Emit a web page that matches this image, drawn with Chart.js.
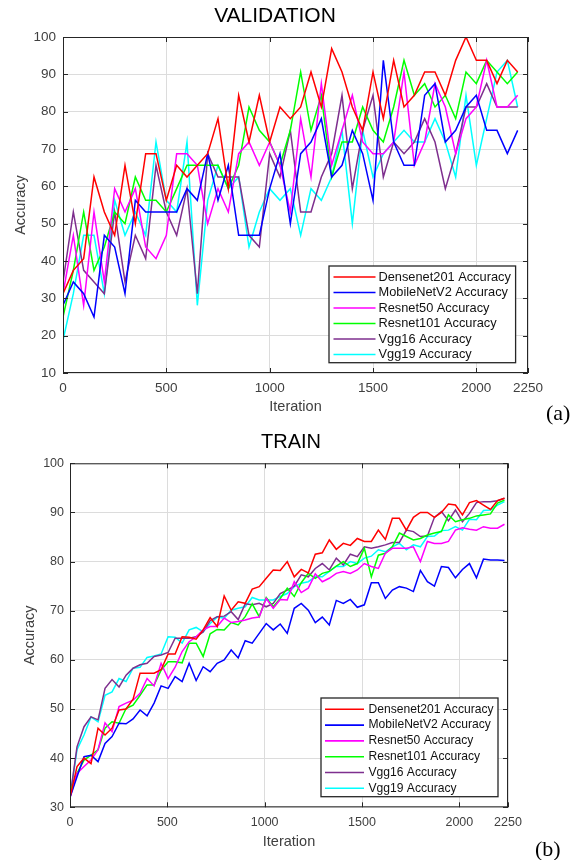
<!DOCTYPE html>
<html>
<head>
<meta charset="utf-8">
<title>Validation / Train Accuracy</title>
<script src="https://cdn.jsdelivr.net/npm/chart.js"></script>
<style>
  body { margin: 0; background: #fff; }
  #wrap { position: relative; width: 587px; height: 860px; }
  canvas { position: absolute; left: 0; }
  #valChart { top: 0; }
  #trainChart { top: 430px; }
  .tag { position: absolute; font-family: "Liberation Serif", "Times New Roman", serif; font-size: 22px; color: #000; }
</style>
</head>
<body>
<div id="wrap">
  <canvas id="valChart" width="587" height="430"></canvas>
  <canvas id="trainChart" width="587" height="430"></canvas>
  <div class="tag" style="left:546px; top:400px">(a)</div>
  <div class="tag" style="left:535px; top:836px">(b)</div>
</div>
<script>
// model names and line colours (MATLAB defaults)
const models = ['Densenet201', 'MobileNetV2', 'Resnet50', 'Resnet101', 'Vgg16', 'Vgg19'];
const colors = ['#ff0000', '#0000ff', '#ff00ff', '#00ff00', '#7e2f8e', '#00ffff'];
const xTicks = [0, 500, 1000, 1500, 2000, 2250];

// ---- validation (every 50 iterations) ----
const valIter = [0, 50, 100, 150, 200, 250, 300, 350, 400, 450, 500, 550, 600, 650, 700, 750, 800, 850, 900, 950,
  1000, 1050, 1100, 1150, 1200, 1250, 1300, 1350, 1400, 1450, 1500, 1550, 1600, 1650, 1700, 1750, 1800, 1850, 1900, 1950,
  2000, 2050, 2100, 2150, 2200];
const valDensenet = [31.25, 37.5, 40.63, 62.5, 53.13, 46.88, 65.63, 50, 68.75, 68.75, 56.25, 65.63, 62.5, 65.63, 68.75,
  78.13, 59.38, 84.38, 71.88, 84.38, 71.88, 81.25, 78.13, 81.25, 90.63, 81.25, 96.88, 90.63, 81.25, 75, 90.63, 78.13,
  93.75, 81.25, 84.38, 90.63, 90.63, 84.38, 93.75, 100, 93.75, 93.75, 87.5, 93.75, 90.63];
const valMobileNet = [28.13, 34.38, 31.25, 25, 46.88, 43.75, 31.25, 56.25, 53.13, 53.13, 53.13, 53.13, 59.38, 56.25, 68.75,
  56.25, 65.63, 46.88, 46.88, 46.88, 59.38, 68.75, 50, 68.75, 71.88, 78.13, 62.5, 65.63, 75, 68.75, 56.25, 93.75, 71.88,
  65.63, 65.63, 84.38, 87.5, 71.88, 75, 81.25, 84.38, 75, 75, 68.75, 75];
const valResnet50 = [31.25, 46.88, 28.13, 53.13, 34.38, 59.38, 53.13, 59.38, 43.75, 40.63, 46.88, 68.75, 68.75, 65.63, 50,
  59.38, 53.13, 68.75, 71.88, 65.63, 71.88, 65.63, 53.13, 78.13, 62.5, 87.5, 65.63, 75, 84.38, 71.88, 68.75, 68.75, 71.88,
  90.63, 65.63, 71.88, 87.5, 81.25, 68.75, 78.13, 81.25, 93.75, 81.25, 81.25, 84.38];
const valResnet101 = [25, 37.5, 53.13, 37.5, 43.75, 53.13, 50, 62.5, 56.25, 56.25, 53.13, 59.38, 65.63, 65.63, 65.63, 65.63,
  59.38, 65.63, 81.25, 75, 71.88, 65.63, 75, 90.63, 75, 84.38, 62.5, 71.88, 71.88, 81.25, 75, 71.88, 81.25, 93.75, 84.38,
  87.5, 81.25, 84.38, 78.13, 90.63, 87.5, 93.75, 90.63, 87.5, 90.63];
const valVgg16 = [34.38, 53.13, 37.5, 34.38, 31.25, 53.13, 34.38, 46.88, 40.63, 65.63, 53.13, 46.88, 59.38, 31.25, 68.75,
  62.5, 62.5, 62.5, 46.88, 43.75, 68.75, 62.5, 75, 53.13, 53.13, 62.5, 68.75, 84.38, 59.38, 75, 84.38, 62.5, 71.88, 68.75,
  71.88, 78.13, 71.88, 59.38, 68.75, 81.25, 81.25, 87.5, 81.25, 81.25, 81.25];
const valVgg19 = [18.75, 31.25, 46.88, 46.88, 31.25, 56.25, 46.88, 53.13, 46.88, 71.88, 56.25, 53.13, 71.88, 28.13, 56.25,
  65.63, 59.38, 62.5, 43.75, 53.13, 59.38, 56.25, 59.38, 46.88, 59.38, 56.25, 62.5, 75, 50, 75, 62.5, 68.75, 71.88, 75,
  71.88, 71.88, 78.13, 71.88, 62.5, 84.38, 65.63, 78.13, 90.63, 93.75, 81.25];

// ---- training ----
const trainIter = [0, 36, 72, 108, 144, 180, 216, 252, 288, 324, 360, 396, 432, 468, 504, 540, 576, 612, 648, 684, 720,
  756, 792, 828, 864, 900, 936, 972, 1008, 1044, 1080, 1116, 1152, 1188, 1224, 1260, 1296, 1332, 1368, 1404, 1440, 1476,
  1512, 1548, 1584, 1620, 1656, 1692, 1728, 1764, 1800, 1836, 1872, 1908, 1944, 1980, 2016, 2052, 2088, 2124, 2160, 2196, 2232];
const trDensenet = [32, 38.3, 40, 38.9, 46.1, 44.7, 46.1, 49.8, 50, 52, 57.3, 57.3, 57.3, 58, 61.2, 61.2, 64.7, 64.6, 64.2,
  66.1, 68.6, 66.8, 73, 70.1, 71.8, 71.5, 74.4, 74.9, 76.6, 78.3, 78.2, 80, 76.9, 78.4, 77.7, 81.5, 81.8, 84.4, 82.5, 83.7,
  83.3, 84.7, 84.1, 84.1, 86.4, 84.5, 88.8, 88.8, 86.4, 89, 90, 90, 89, 90, 91.7, 91.5, 89.5, 92, 92.4, 91.5, 90.6, 92.4, 92.9];
const trMobileNet = [32, 36.2, 40.3, 40.6, 39.3, 43, 44.4, 47.1, 47, 48, 49.8, 48.6, 51.2, 54.7, 54.2, 56.6, 55.6, 59.3, 55.8,
  58.6, 57.6, 59.3, 60, 62, 60.4, 63.9, 63.4, 65.4, 67.4, 66.1, 67.3, 65.4, 70.5, 71.5, 70.1, 67.6, 68.7, 67.1, 72.1, 71.5,
  72.3, 70.7, 71.2, 75.7, 75.7, 72.5, 74.2, 74.9, 74.6, 73.9, 78.2, 75.9, 75, 79, 78.8, 76.7, 78.4, 79.6, 76.7, 80.5, 80.3, 80.3, 80.2];
const trResnet50 = [32, 36.9, 38.3, 39.6, 41.7, 47.2, 45.4, 50.5, 51.2, 51.8, 53.2, 56.2, 54.7, 59.3, 56.2, 58.5, 61.7, 63.7,
  64.7, 66.1, 66.8, 66.8, 68.5, 67.6, 67.8, 68.1, 68.5, 68.7, 72.5, 70.5, 72.3, 72.2, 75.9, 73.7, 74.6, 77.5, 75.9, 76.6, 77.6,
  78, 77.6, 78.3, 79.6, 79, 78.6, 81.7, 82.7, 82.7, 82.7, 83, 80, 84.1, 83.7, 83.7, 84.1, 86.4, 86.9, 86.6, 86.4, 87.1, 86.8, 86.8, 87.6];
const trResnet101 = [33, 36.9, 39.6, 40.6, 41.7, 46.1, 47.4, 47.1, 50.1, 50.8, 52.8, 54.9, 54.9, 57.9, 59.6, 59.6, 59.4, 63.4,
  63.4, 60.7, 65.3, 66.2, 66.1, 67.6, 67.1, 68.8, 71.4, 68.8, 72.7, 70.8, 72.5, 74.6, 72.9, 75.7, 77.6, 76.6, 77.6, 78, 79.1,
  80, 79, 79.6, 82.7, 76.9, 81.3, 81.7, 83, 85.8, 85.1, 84.4, 84.7, 85.4, 85.8, 86.1, 89.5, 88.1, 88.5, 88.8, 89.3, 89.5, 89.7, 91.9, 92.5];
const trVgg16 = [32, 42.3, 46.4, 48.4, 47.8, 54.2, 56, 54.5, 56.9, 58.3, 59, 59.3, 60.7, 61, 61.5, 64.4, 64.4, 64.4, 64.7, 65.7,
  68, 68.8, 68.9, 69.8, 68.2, 71.4, 71.2, 71.5, 70.8, 71.5, 73.5, 74.2, 75, 77.3, 76.9, 78.6, 79.6, 78.3, 80.7, 79.3, 81.5, 81,
  83, 82.7, 83, 83.4, 83.9, 83.9, 86.4, 86.1, 85.1, 85.2, 89, 90.2, 88.3, 90.5, 88.1, 89.8, 92, 92.2, 92.2, 92.4, 92.9];
const trVgg19 = [32, 41.7, 44.7, 48.4, 47.4, 52.8, 53.5, 56.2, 55.6, 58.3, 58.5, 60.5, 60.8, 61.2, 64.7, 64.6, 63.4, 66.1, 66.6,
  65.7, 67.4, 68.7, 68.5, 70.1, 70.5, 70.8, 72.7, 72.2, 72.2, 72.2, 72.9, 73.5, 74.9, 75.6, 75.9, 76.9, 76.9, 78, 79, 79, 80,
  79.6, 80.7, 81.1, 82.4, 82, 83, 83.7, 82.4, 83.4, 83, 85.1, 85.2, 86.3, 86.4, 87.1, 86.4, 88.6, 88.5, 90.4, 90.5, 91.5, 92.2];

const FONT = '"Liberation Sans", Arial, sans-serif';

// axes box with inward ticks, title and in-plot legend (MATLAB look)
const frame = {
  id: 'frame',
  afterDraw(chart, args, o) {
    const ctx = chart.ctx, a = chart.chartArea;
    const xs = chart.scales.x, ys = chart.scales.y;
    ctx.save();
    ctx.fillStyle = '#000';
    ctx.font = o.titleSize + 'px ' + FONT;
    ctx.textAlign = 'center';
    ctx.textBaseline = 'middle';
    ctx.fillText(o.title, o.titleX, o.titleY);

    ctx.strokeStyle = '#262626';
    ctx.lineWidth = 1;
    ctx.strokeRect(a.left + 0.5, a.top + 0.5, a.right - a.left - 1, a.bottom - a.top - 1);
    ctx.beginPath();
    xs.ticks.forEach(t => {
      const px = Math.round(xs.getPixelForValue(t.value)) + 0.5;
      ctx.moveTo(px, a.bottom); ctx.lineTo(px, a.bottom - 5);
      ctx.moveTo(px, a.top); ctx.lineTo(px, a.top + 5);
    });
    ys.ticks.forEach(t => {
      const py = Math.round(ys.getPixelForValue(t.value)) + 0.5;
      ctx.moveTo(a.left, py); ctx.lineTo(a.left + 5, py);
      ctx.moveTo(a.right, py); ctx.lineTo(a.right - 5, py);
    });
    ctx.stroke();

    const L = o.legend;
    const bx = a.right - L.gapR - L.w, by = a.bottom - L.gapB - L.h;
    ctx.fillStyle = '#fff';
    ctx.fillRect(bx, by, L.w, L.h);
    ctx.lineWidth = 1.3;
    ctx.strokeRect(bx, by, L.w, L.h);
    ctx.font = L.size + 'px ' + FONT;
    ctx.textAlign = 'left';
    chart.data.datasets.forEach((ds, i) => {
      const y = by + L.first + i * L.gap;
      ctx.strokeStyle = ds.borderColor;
      ctx.lineWidth = 1.6;
      ctx.beginPath(); ctx.moveTo(bx + L.l0, y); ctx.lineTo(bx + L.l1, y); ctx.stroke();
      ctx.fillStyle = '#111';
      ctx.fillText(ds.label, bx + L.tx, y);
    });
    ctx.restore();
  }
};

function makeChart(id, o) {
  return new Chart(document.getElementById(id), {
    type: 'line',
    data: {
      datasets: models.map((m, i) => ({
        label: m + ' Accuracy',
        data: o.iter.map((x, j) => ({ x: x, y: o.series[i][j] })),
        borderColor: colors[i],
        borderWidth: 1.5,
        pointRadius: 0,
        tension: 0,
        fill: false
      }))
    },
    options: {
      responsive: false,
      animation: false,
      events: [],
      layout: { padding: { left: 0, right: 587 - o.right, top: o.top, bottom: 0 } },
      plugins: {
        legend: { display: false },
        tooltip: { enabled: false },
        frame: o.frame
      },
      scales: {
        x: {
          type: 'linear', min: 0, max: 2250,
          afterBuildTicks: s => { s.ticks = xTicks.map(v => ({ value: v })); },
          afterFit: s => { s.height = 430 - o.bottom; },
          grid: { color: '#dcdcdc', drawTicks: false },
          border: { display: false },
          ticks: { color: '#404040', font: { family: FONT, size: o.tickSize }, padding: o.xPad, maxRotation: 0, autoSkip: false,
                   callback: v => String(v) },
          title: { display: true, text: 'Iteration', color: '#404040', font: { family: FONT, size: 14.5 }, padding: { top: 0, bottom: o.xTitlePad } }
        },
        y: {
          min: o.yMin, max: 100,
          afterFit: s => { s.width = o.left; },
          grid: { color: '#dcdcdc', drawTicks: false },
          border: { display: false },
          ticks: { stepSize: 10, color: '#404040', font: { family: FONT, size: o.tickSize }, padding: o.yPad,
                   callback: v => String(v) },
          title: { display: true, text: 'Accuracy', color: '#404040', font: { family: FONT, size: 14.5 }, padding: { top: o.yTitlePad, bottom: 0 } }
        }
      }
    },
    plugins: [frame]
  });
}

makeChart('valChart', {
  iter: valIter,
  series: [valDensenet, valMobileNet, valResnet50, valResnet101, valVgg16, valVgg19],
  left: 63, right: 528, top: 37, bottom: 373, yMin: 10,
  tickSize: 13.5, xPad: 7, yPad: 7, xTitlePad: 14.3, yTitlePad: 12,
  frame: {
    title: 'VALIDATION', titleSize: 21, titleX: 275, titleY: 16,
    legend: { w: 186.6, h: 96.7, gapR: 12.4, gapB: 10.3, first: 11, gap: 15.5, l0: 4.5, l1: 46.5, tx: 49.5, size: 12.8 }
  }
});

makeChart('trainChart', {
  iter: trainIter,
  series: [trDensenet, trMobileNet, trResnet50, trResnet101, trVgg16, trVgg19],
  left: 70, right: 508, top: 33.3, bottom: 377.3, yMin: 30,
  tickSize: 12.5, xPad: 8, yPad: 6, xTitlePad: 9.3, yTitlePad: 21.3,
  frame: {
    title: 'TRAIN', titleSize: 20, titleX: 291, titleY: 12,
    legend: { w: 177, h: 98.7, gapR: 10, gapB: 10.6, first: 11.3, gap: 15.8, l0: 4, l1: 43, tx: 47.5, size: 12.1 }
  }
});
</script>
</body>
</html>
